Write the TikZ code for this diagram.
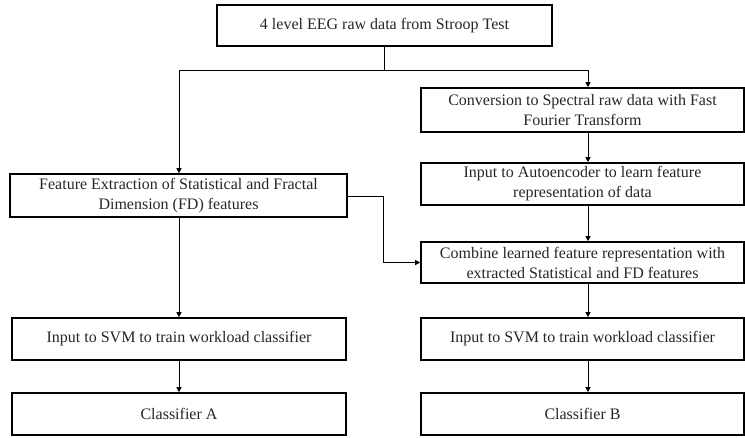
\documentclass[tikz,border=0pt]{standalone}
\usepackage{fontspec}
\setmainfont{Liberation Serif}
\usetikzlibrary{arrows.meta}
\begin{document}
\begin{tikzpicture}[x=1pt,y=-1pt,
  box/.style={draw=black, line width=1.6pt, inner sep=0pt, align=center,
    font=\fontsize{16}{20}\selectfont, text=black!85},
  leftbox/.style={box, minimum width=334pt, minimum height=42pt},
  rightbox/.style={box, minimum width=323pt, minimum height=42pt},
  conn/.style={line width=0.9pt, -{Triangle[length=5pt,width=5pt]}},
  link/.style={line width=0.9pt}]
\useasboundingbox (0,0) rectangle (745,437);
% nodes
\node[box, minimum width=335pt, minimum height=41pt] (top) at (384.5,25.5) {4 level EEG raw data from Stroop Test};
\node[leftbox, minimum width=337pt, minimum height=43pt] (fe) at (178.5,195.5) {Feature Extraction of Statistical and Fractal\\Dimension (FD) features};
\node[rightbox, minimum height=44pt] (conv) at (582.5,110) {Conversion to Spectral raw data with Fast\\Fourier Transform};
\node[rightbox] (ae) at (582.5,184) {Input to Autoencoder to learn feature\\representation of data};
\node[rightbox, minimum height=41pt] (comb) at (582.5,262.5) {Combine learned feature representation with\\extracted Statistical and FD features};
\node[leftbox] (svma) at (179,339) {Input to SVM to train workload classifier};
\node[leftbox] (clsa) at (179,414) {Classifier A};
\node[rightbox] (svmb) at (582.5,339) {Input to SVM to train workload classifier};
\node[rightbox] (clsb) at (582.5,414) {Classifier B};
% helper coordinates
\coordinate (split) at (384.5,70);
\coordinate (splitL) at (179,70);
\coordinate (splitR) at (588,70);
\coordinate (bend) at (383,196);
% connectors
\draw[link] (top.south) -- (split);
\draw[link] (splitL) -- (splitR);
\draw[conn] (splitL) -- (splitL |- fe.north);
\draw[conn] (splitR) -- (splitR |- conv.north);
\draw[conn] (conv.south -| splitR) -- (ae.north -| splitR);
\draw[conn] (ae.south -| splitR) -- (comb.north -| splitR);
\draw[conn] (comb.south -| splitR) -- (svmb.north -| splitR);
\draw[conn] (svmb.south -| splitR) -- (clsb.north -| splitR);
\draw[conn] (fe.south -| splitL) -- (svma.north -| splitL);
\draw[conn] (svma.south -| splitL) -- (clsa.north -| splitL);
\draw[conn] (fe.east |- bend) -- (bend) -- (bend |- comb.west) -- (comb.west);
\end{tikzpicture}
\end{document}
